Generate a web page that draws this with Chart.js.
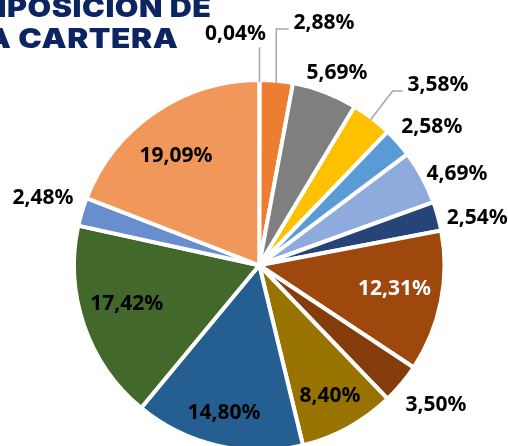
<!DOCTYPE html>
<html>
<head>
<meta charset="utf-8">
<script src="https://cdn.jsdelivr.net/npm/chart.js@4/dist/chart.umd.min.js"></script>
<style>
  html, body { margin: 0; padding: 0; background: #fff; }
  #wrap { position: relative; width: 508px; height: 446px; overflow: hidden; }
  #pie { position: absolute; left: 0; top: 0; }
  .titre {
    position: absolute; white-space: nowrap;
    font-family: Inter, sans-serif; font-weight: 900; font-size: 27px; line-height: 27px;
    color: #0c2461; letter-spacing: 0.5px;
    transform: scaleX(1.17); transform-origin: right center;
  }
</style>
</head>
<body>
<div id="wrap">
  <canvas id="pie" width="508" height="460"></canvas>
  <div class="titre" style="right: 296px; top: -6px; transform: scaleX(1.13);">COMPOSICIÓN DE</div>
  <div class="titre" style="right: 330px; top: 25px;">LA CARTERA</div>
</div>
<script>
// valeurs en %, dans l'ordre des parts (depuis midi, sens horaire)
const valeurs = [0.04, 2.88, 5.69, 3.58, 2.58, 4.69, 2.54, 12.31, 3.50, 8.40, 14.80, 17.42, 2.48, 19.09];
const etiquettes = ['0,04%', '2,88%', '5,69%', '3,58%', '2,58%', '4,69%', '2,54%', '12,31%', '3,50%', '8,40%', '14,80%', '17,42%', '2,48%', '19,09%'];
const couleurs = ['#4472C4', '#ED7D31', '#7F7F7F', '#FFC000', '#5B9BD5', '#8FAADC', '#264478',
                  '#9E480E', '#843C0C', '#997300', '#255E91', '#43682B', '#698ED0', '#F1975A'];

// placement des étiquettes : distance au centre (px), petit décalage, ligne de rappel
const placement = [
    { d: 231, dx: -24, dy: 0, rappel: 'haut' },
    { d: 0, dx: 0, dy: 0, rappel: 'coude', cx: 324, cy: 23 },
    { d: 208, dx: 4, dy: 2 },
    { d: 0, dx: 0, dy: 0, rappel: 'diag', cx: 438, cy: 85 },
    { d: 221, dx: 7, dy: 8 },
    { d: 218, dx: 6, dy: 12 },
    { d: 223, dx: 3, dy: 12 },
    { d: 137, dx: 1, dy: -3 },
    { d: 225, dx: 4, dy: -4 },
    { d: 149, dx: -1, dy: 0 },
    { d: 152, dx: -1, dy: 0 },
    { d: 138, dx: -2, dy: -6 },
    { d: 226, dx: 0, dy: -2 },
    { d: 137, dx: -6, dy: 4 }
];

const etiquettesPlugin = {
    id: 'etiquettes',
    afterDatasetsDraw(chart) {
        const ctx = chart.ctx;
        const arcs = chart.getDatasetMeta(0).data;
        ctx.save();
        ctx.font = 'bold 21px "Noto Sans"';
        ctx.textAlign = 'center';
        ctx.textBaseline = 'middle';
        arcs.forEach((arc, i) => {
            const p = placement[i];
            const mid = (arc.startAngle + arc.endAngle) / 2;
            const r = arc.outerRadius - 2;
            const bordX = arc.x + Math.cos(mid) * r;
            const bordY = arc.y + Math.sin(mid) * r;
            let x, y;
            if (p.cx !== undefined) {
                x = p.cx; y = p.cy;
            } else {
                x = arc.x + Math.cos(mid) * p.d + p.dx;
                y = arc.y + Math.sin(mid) * p.d + p.dy;
            }
            const w = ctx.measureText(etiquettes[i]).width;

            if (p.rappel) {
                ctx.strokeStyle = '#A6A6A6';
                ctx.lineWidth = 1.5;
                ctx.beginPath();
                ctx.moveTo(bordX, bordY);
                if (p.rappel === 'haut') {
                    ctx.lineTo(bordX, y + 13);
                } else if (p.rappel === 'coude') {
                    ctx.lineTo(bordX, y + 6);
                    ctx.lineTo(x - w / 2 - 5, y + 6);
                } else {
                    ctx.lineTo(x - w / 2 - 15, y + 6);
                    ctx.lineTo(x - w / 2 - 5, y + 6);
                }
                ctx.stroke();
            }

            ctx.fillStyle = i === 7 ? '#FFFFFF' : '#000000';
            ctx.fillText(etiquettes[i], x, y);
        });
        ctx.restore();
    }
};

new Chart(document.getElementById('pie'), {
    type: 'pie',
    data: {
        labels: etiquettes,
        datasets: [{
            data: valeurs,
            backgroundColor: couleurs,
            borderColor: '#FFFFFF',
            borderWidth: 4
        }]
    },
    options: {
        responsive: false,
        animation: false,
        layout: { padding: { left: 72, top: 78, right: 61.5, bottom: 7.5 } },
        plugins: {
            legend: { display: false },
            tooltip: { enabled: false }
        }
    },
    plugins: [etiquettesPlugin]
});
</script>
</body>
</html>
